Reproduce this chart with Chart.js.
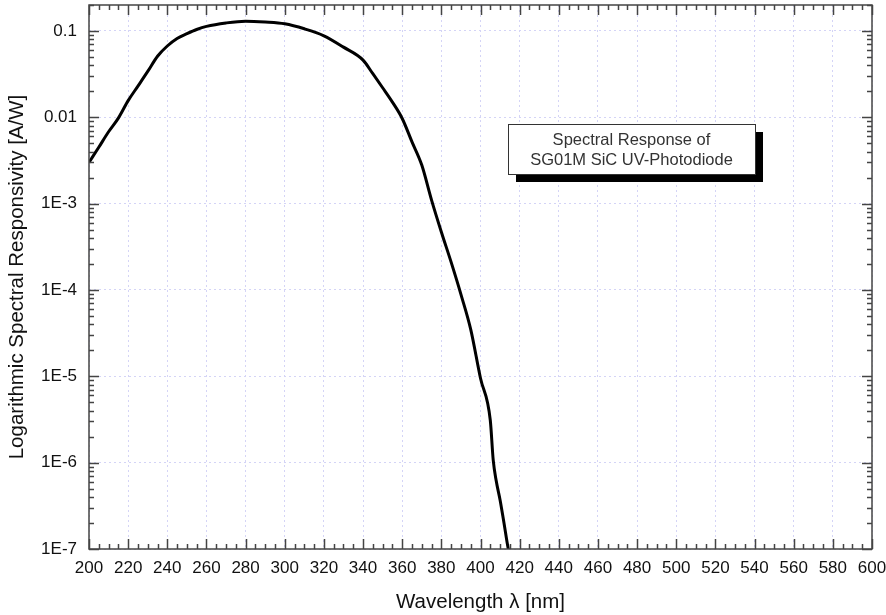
<!DOCTYPE html>
<html>
<head>
<meta charset="utf-8">
<script src="https://cdn.jsdelivr.net/npm/chart.js@4/dist/chart.umd.min.js"></script>
<style>
  html, body { margin: 0; padding: 0; background: #fff; }
  #wrap { width: 886px; height: 615px; }
</style>
</head>
<body>
<div id="wrap"><canvas id="chart_sg01m"></canvas></div>
<script>
// values
const wavelengths = [200, 205, 210, 215, 220, 225, 230, 235, 240, 245, 250, 255, 260, 270, 280, 290, 300, 310, 320, 330, 340, 345, 350, 355, 360, 365, 370, 375, 380, 385, 390, 395, 400, 405, 406.5, 408, 410, 412, 414.2, 416];
const responsivity = [0.003, 0.0045, 0.0068, 0.0098, 0.0156, 0.023, 0.034, 0.051, 0.067, 0.082, 0.093, 0.104, 0.113, 0.124, 0.13, 0.127, 0.121, 0.106, 0.088, 0.065, 0.046, 0.032, 0.022, 0.015, 0.0097, 0.0052, 0.0028, 0.0011, 0.00047, 0.00021, 0.000089, 0.000035, 0.0000095, 0.0000031, 0.00000107, 0.00000062, 0.00000037, 0.0000002, 0.0000001, 0.00000007];
const yDecades = [1e-7, 1e-6, 1e-5, 1e-4, 1e-3, 0.01, 0.1];
const xTicks = [200, 220, 240, 260, 280, 300, 320, 340, 360, 380, 400, 420, 440, 460, 480, 500, 520, 540, 560, 580, 600];
const boxLines = ["Spectral Response of", "SG01M SiC UV-Photodiode"];

const points = wavelengths.map((w, i) => ({ x: w, y: responsivity[i] }));

function noPad(scale) {
  scale.paddingTop = 0;
  scale.paddingBottom = 0;
  scale.paddingLeft = 0;
  scale.paddingRight = 0;
}

// frame, inward tick marks on all four sides, and the text box
const framePlugin = {
  id: "framePlugin",
  afterDatasetsDraw(chart) {
    const ctx = chart.ctx;
    const a = chart.chartArea;
    const xs = chart.scales.x;
    const ys = chart.scales.y;
    ctx.save();
    ctx.strokeStyle = "#444";
    ctx.lineWidth = 1.5;
    ctx.strokeRect(a.left, a.top, a.right - a.left, a.bottom - a.top);

    ctx.beginPath();
    for (let v = 200; v <= 600; v += 5) {
      const px = Math.round(xs.getPixelForValue(v)) + 0.5;
      const len = v % 20 === 0 ? 10 : 5;
      ctx.moveTo(px, a.bottom); ctx.lineTo(px, a.bottom - len);
      ctx.moveTo(px, a.top); ctx.lineTo(px, a.top + len);
    }
    for (let e = -7; e <= -1; e++) {
      for (let m = 1; m <= 9; m++) {
        const v = m * Math.pow(10, e);
        if (v > 0.2) break;
        const py = Math.round(ys.getPixelForValue(v)) + 0.5;
        const len = m === 1 ? 10 : 5;
        ctx.moveTo(a.left, py); ctx.lineTo(a.left + len, py);
        ctx.moveTo(a.right, py); ctx.lineTo(a.right - len, py);
      }
    }
    ctx.stroke();

    // text box with drop shadow
    const bx = 508, by = 124, bw = 247, bh = 50;
    ctx.fillStyle = "#000";
    ctx.fillRect(bx + 8, by + 8, bw, bh);
    ctx.fillStyle = "#fff";
    ctx.fillRect(bx, by, bw, bh);
    ctx.lineWidth = 1;
    ctx.strokeStyle = "#333";
    ctx.strokeRect(bx + 0.5, by + 0.5, bw, bh);
    ctx.fillStyle = "#333";
    ctx.font = "16.5px 'Liberation Sans', Arial, sans-serif";
    ctx.textAlign = "center";
    ctx.textBaseline = "middle";
    ctx.fillText(boxLines[0], bx + bw / 2, by + 16);
    ctx.fillText(boxLines[1], bx + bw / 2, by + 36);
    ctx.restore();
  },
};

const ctx = document.getElementById("chart_sg01m").getContext("2d");
const myChart = new Chart(ctx, {
  type: "line",
  data: {
    datasets: [
      {
        data: points,
        borderColor: "#000",
        borderWidth: 3,
        pointRadius: 0,
        fill: false,
        cubicInterpolationMode: "monotone",
      },
    ],
  },
  options: {
    animation: false,
    responsive: true,
    maintainAspectRatio: false,
    layout: {
      padding: { top: 5, right: 14, left: 0, bottom: 0 },
    },
    plugins: {
      legend: { display: false },
      tooltip: { enabled: false },
    },
    scales: {
      x: {
        type: "linear",
        min: 200,
        max: 600,
        afterBuildTicks: (scale) => {
          scale.ticks = xTicks.map((v) => ({ value: v }));
        },
        afterFit: (scale) => {
          scale.height = 66;
          noPad(scale);
        },
        border: { display: false, dash: [2, 3] },
        grid: {
          color: "#d4d4f6",
          lineWidth: 1,
          drawTicks: false,
        },
        ticks: {
          padding: 9,
          color: "#111",
          font: { family: "'Liberation Sans', Arial, sans-serif", size: 17 },
          maxRotation: 0,
          autoSkip: false,
        },
        title: {
          display: true,
          text: "Wavelength λ [nm]",
          color: "#111",
          padding: { top: 0, bottom: 0 },
          font: { family: "'Liberation Sans', Arial, sans-serif", size: 20.5 },
        },
      },
      y: {
        type: "logarithmic",
        min: 1e-7,
        max: 0.2,
        afterBuildTicks: (scale) => {
          scale.ticks = yDecades.map((v) => ({ value: v }));
        },
        afterFit: (scale) => {
          scale.width = 89;
          noPad(scale);
        },
        border: { display: false, dash: [2, 3] },
        grid: {
          color: "#d4d4f6",
          lineWidth: 1,
          drawTicks: false,
        },
        ticks: {
          padding: 12,
          color: "#111",
          font: { family: "'Liberation Sans', Arial, sans-serif", size: 17 },
          autoSkip: false,
          callback: function (value) {
            const e = Math.round(Math.log10(value));
            return e >= -2 ? String(Math.pow(10, e).toFixed(-e)) : "1E" + e;
          },
        },
        title: {
          display: true,
          text: "Logarithmic Spectral Responsivity [A/W]",
          color: "#111",
          padding: { top: 5, bottom: 0 },
          font: { family: "'Liberation Sans', Arial, sans-serif", size: 20.5 },
        },
      },
    },
  },
  plugins: [framePlugin],
});
</script>
</body>
</html>
